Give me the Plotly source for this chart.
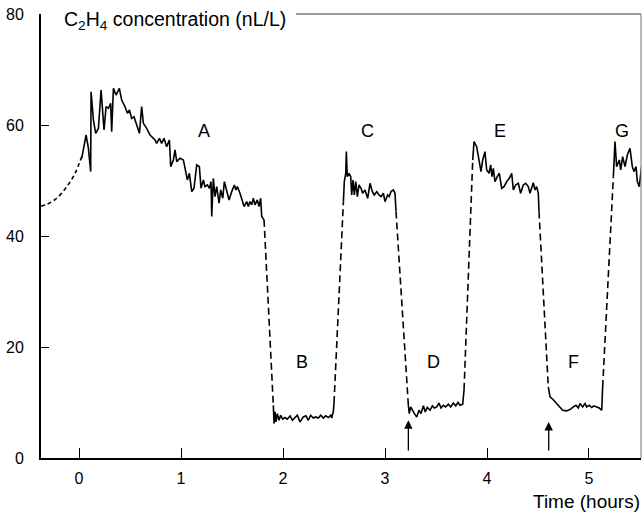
import plotly.graph_objects as go

# ---- data (time in hours, C2H4 in nL/L) ----
lead_t = [-0.373, -0.317, -0.219, -0.120, -0.039, 0.026]
lead_c = [45.4, 45.7, 46.8, 48.9, 51.3, 54.3]

A_t = [0.026, 0.069, 0.092, 0.114, 0.118, 0.141, 0.163, 0.190, 0.216, 0.245, 0.265, 0.288, 0.310, 0.320,
       0.337, 0.363, 0.395, 0.418, 0.451, 0.474, 0.494, 0.516, 0.539, 0.565, 0.592, 0.614, 0.631, 0.663,
       0.696, 0.745, 0.761, 0.788, 0.810, 0.833, 0.859, 0.886, 0.899, 0.925, 0.941, 0.958, 0.990, 1.023,
       1.039, 1.062, 1.082, 1.105, 1.127, 1.154, 1.180, 1.196, 1.219, 1.235, 1.258, 1.278, 1.294, 1.301,
       1.317, 1.333, 1.350, 1.373, 1.389, 1.409, 1.425, 1.448, 1.471, 1.497, 1.523, 1.539, 1.552, 1.578,
       1.598, 1.618, 1.644, 1.660, 1.676, 1.693, 1.709, 1.725, 1.748, 1.765, 1.781, 1.791, 1.814]
A_c = [54.0, 58.2, 55.8, 51.6, 66.0, 60.9, 58.5, 59.4, 66.3, 59.1, 63.3, 63.0, 63.9, 58.8,
       66.6, 65.4, 66.6, 64.5, 63.3, 62.1, 62.7, 61.2, 61.5, 60.0, 58.5, 63.3, 60.3, 59.4,
       58.2, 57.3, 56.7, 57.6, 56.7, 57.6, 56.1, 57.3, 52.5, 53.7, 55.5, 53.4, 54.0, 53.7,
       51.9, 50.1, 51.3, 48.0, 48.6, 52.8, 52.5, 48.6, 50.1, 48.9, 49.2, 48.6, 49.8, 43.5,
       50.4, 47.1, 48.9, 45.9, 48.3, 46.8, 49.8, 48.3, 46.5, 48.0, 49.2, 48.3, 48.9, 47.7,
       46.5, 45.3, 46.2, 45.3, 46.2, 45.6, 46.8, 45.6, 46.5, 45.3, 46.8, 43.5, 42.9]

B_t = [1.905, 1.912, 1.922, 1.931, 1.944, 1.961, 1.977, 1.997, 2.020, 2.042, 2.069, 2.092, 2.118, 2.140,
       2.167, 2.199, 2.225, 2.248, 2.271, 2.297, 2.320, 2.346, 2.370, 2.395, 2.418, 2.444, 2.468, 2.477,
       2.493, 2.500]
B_c = [9.5, 6.2, 8.3, 6.5, 8.0, 6.8, 7.7, 7.0, 7.3, 7.0, 7.6, 6.8, 7.3, 7.7,
       6.5, 7.4, 7.6, 6.8, 7.7, 7.2, 7.4, 7.2, 7.7, 7.2, 7.6, 7.3, 7.7, 7.2,
       8.3, 9.9]

C_t = [2.592, 2.601, 2.615, 2.621, 2.630, 2.647, 2.664, 2.673, 2.686, 2.699, 2.713, 2.729, 2.745, 2.765,
       2.781, 2.804, 2.830, 2.853, 2.876, 2.895, 2.919, 2.941, 2.961, 2.984, 3.000, 3.026, 3.042, 3.059,
       3.082, 3.098, 3.108]
C_c = [46.2, 49.8, 51.3, 55.2, 50.7, 51.3, 50.7, 47.4, 50.1, 47.4, 49.8, 47.1, 49.2, 48.6,
       47.7, 48.3, 46.8, 49.5, 48.0, 47.4, 48.0, 47.4, 47.1, 47.7, 46.2, 47.4, 47.1, 48.0,
       48.3, 47.7, 44.4]

D_t = [3.229, 3.238, 3.252, 3.268, 3.288, 3.311, 3.333, 3.353, 3.376, 3.395, 3.415, 3.441, 3.464, 3.484,
       3.507, 3.529, 3.549, 3.572, 3.595, 3.621, 3.644, 3.670, 3.693, 3.716, 3.735, 3.762, 3.775]
D_c = [9.5, 8.0, 9.2, 8.6, 8.0, 7.4, 8.6, 8.0, 9.4, 8.3, 9.1, 8.6, 9.4, 9.0,
       9.2, 9.9, 9.0, 9.5, 9.2, 9.7, 9.2, 9.9, 9.4, 10.0, 9.5, 9.7, 12.3]

E_t = [3.860, 3.873, 3.899, 3.922, 3.941, 3.958, 3.980, 3.997, 4.020, 4.036, 4.049, 4.062, 4.078, 4.101,
       4.121, 4.144, 4.167, 4.193, 4.219, 4.242, 4.258, 4.281, 4.307, 4.330, 4.356, 4.379, 4.405, 4.422,
       4.438, 4.454, 4.471, 4.487, 4.503, 4.510]
E_c = [53.7, 57.0, 56.1, 53.7, 51.6, 53.7, 55.2, 51.9, 51.3, 52.8, 50.7, 52.2, 49.8, 50.7,
       51.3, 48.6, 48.9, 49.8, 50.4, 51.3, 48.3, 49.2, 49.5, 47.7, 49.2, 49.5, 48.9, 47.7,
       48.6, 49.6, 48.3, 48.9, 47.7, 44.4]

F_t = [4.601, 4.618, 4.650, 4.683, 4.716, 4.742, 4.781, 4.821, 4.846, 4.873, 4.895, 4.912, 4.938, 4.961,
       4.977, 5.003, 5.026, 5.049, 5.075, 5.101, 5.125, 5.134]
F_c = [12.8, 11.0, 10.5, 9.8, 9.2, 8.6, 8.5, 8.8, 9.2, 9.5, 9.0, 9.8, 9.2, 9.8,
       9.2, 9.5, 9.1, 9.4, 9.2, 9.0, 8.6, 12.8]

G_t = [5.239, 5.255, 5.271, 5.297, 5.311, 5.330, 5.353, 5.376, 5.402, 5.425, 5.441, 5.461, 5.474, 5.493, 5.516]
G_c = [50.7, 57.0, 52.5, 53.7, 51.9, 54.3, 52.5, 54.6, 55.8, 52.5, 51.6, 52.5, 49.8, 48.9, 52.5]

labels = ["A", "B", "C", "D", "E", "F", "G"]
label_t = [1.225, 2.186, 2.824, 3.480, 4.127, 4.853, 5.324]
label_c = [58.9, 17.3, 58.9, 17.3, 58.9, 17.3, 58.9]

arrow_t = [3.229, 4.605]
arrow_head_c = [6.8, 6.5]
arrow_tail_c = [1.1, 1.1]

x_ticks = [0, 1, 2, 3, 4, 5]
y_ticks = [0, 20, 40, 60, 80]
x_range = [-0.373, 5.51]
y_range = [0, 80]

FONT = "Liberation Sans, Arial, Helvetica, sans-serif"

fig = go.Figure()
segments = [(A_t, A_c), (B_t, B_c), (C_t, C_c), (D_t, D_c), (E_t, E_c), (F_t, F_c), (G_t, G_c)]

# leading dashed curve
fig.add_trace(go.Scatter(x=lead_t, y=lead_c, mode="lines",
                         line=dict(color="black", width=1.6, dash="4px,3px", shape="spline"),
                         showlegend=False, hoverinfo="skip"))
# dashed transitions between measured segments
for (t1, c1), (t2, c2) in zip(segments[:-1], segments[1:]):
    fig.add_trace(go.Scatter(x=[t1[-1], t2[0]], y=[c1[-1], c2[0]], mode="lines",
                             line=dict(color="black", width=1.6, dash="7px,4px"),
                             showlegend=False, hoverinfo="skip"))
# measured segments
for t, c in segments:
    fig.add_trace(go.Scatter(x=t, y=c, mode="lines", line=dict(color="black", width=1.6),
                             showlegend=False, hoverinfo="skip"))

annotations = []
for lab, t, c in zip(labels, label_t, label_c):
    annotations.append(dict(x=t, y=c, xref="x", yref="y", text=lab, showarrow=False,
                            font=dict(family=FONT, size=18, color="black")))
for t, h, tl in zip(arrow_t, arrow_head_c, arrow_tail_c):
    annotations.append(dict(x=t, y=h, ax=t, ay=tl, xref="x", yref="y", axref="x", ayref="y",
                            text="", showarrow=True, arrowhead=2, arrowsize=1.3, arrowwidth=1.3,
                            arrowcolor="black"))
annotations.append(dict(x=0.035, y=0.986, xref="paper", yref="paper", xanchor="left", yanchor="middle",
                        text="C<sub>2</sub>H<sub>4</sub> concentration (nL/L)", showarrow=False,
                        font=dict(family=FONT, size=19.5, color="black")))
annotations.append(dict(x=1.001, y=-0.097, xref="paper", yref="paper", xanchor="right", yanchor="middle",
                        text="Time (hours)", showarrow=False,
                        font=dict(family=FONT, size=19, color="black")))

shapes = [
    dict(type="line", xref="paper", yref="paper", x0=0.425, x1=1.0, y0=1, y1=1,
         line=dict(color="#333", width=1)),
    dict(type="line", xref="paper", yref="paper", x0=1.0, x1=1.0, y0=0, y1=1,
         line=dict(color="#777", width=1)),
]

fig.update_layout(
    width=643, height=513,
    margin=dict(l=41, r=2, t=14, b=55),
    plot_bgcolor="white", paper_bgcolor="white",
    font=dict(family=FONT, size=16, color="black"),
    annotations=annotations, shapes=shapes,
    xaxis=dict(range=x_range, tickvals=x_ticks, ticktext=[str(v) for v in x_ticks],
               ticks="inside", ticklen=10, tickwidth=1, tickcolor="black",
               showline=True, linewidth=2, linecolor="black", showgrid=False, zeroline=False,
               tickfont=dict(size=16), ticklabelstandoff=5),
    yaxis=dict(range=y_range, tickvals=y_ticks, ticktext=[str(v) for v in y_ticks],
               ticks="inside", ticklen=8, tickwidth=1, tickcolor="black",
               showline=True, linewidth=2, linecolor="black", showgrid=False, zeroline=False,
               tickfont=dict(size=16), ticklabelstandoff=12),
)

fig.write_html("out.html", config={"displayModeBar": False},
               post_script="document.body.style.margin='0';document.body.style.overflow='hidden';")
